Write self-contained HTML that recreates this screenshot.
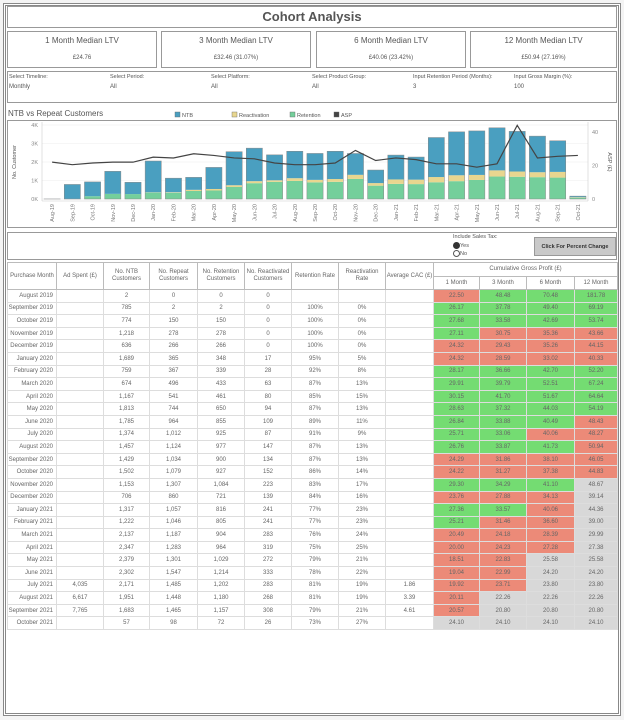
<!DOCTYPE html>
<html><head><meta charset="utf-8">
<style>
*{box-sizing:border-box;margin:0;padding:0}
body{width:624px;height:720px;background:#f4f4f4;font-family:"Liberation Sans",sans-serif;color:#555;position:relative;overflow:hidden}
.frame{position:absolute;left:3px;top:3px;width:618px;height:713px;border:3px double #888;background:#fff}
.box{position:absolute;border:1px solid #999;background:#fff}
.t{position:absolute;white-space:nowrap}
table{position:absolute;left:7px;top:262px;border-collapse:collapse;table-layout:fixed;font-size:6px;color:#666}
td,th{border:1px solid #ddd;text-align:center;font-weight:normal;overflow:hidden;white-space:nowrap;padding:0}
th{border-color:#bbb;line-height:7px}
td.pm{text-align:right;padding-right:3px}
td.g{background:#74dc72}td.r{background:#ec8a78}td.n{background:#d8d8d8}
</style></head><body>
<div class="frame"></div>
<div class="box" style="left:7px;top:6px;width:610px;height:22px"></div>
<div class="t" style="left:0;width:624px;text-align:center;top:9px;font-size:13px;font-weight:bold;color:#555">Cohort Analysis</div>

<div class="box" style="left:7px;top:31px;width:150px;height:37px"></div>
<div class="box" style="left:161px;top:31px;width:150px;height:37px"></div>
<div class="box" style="left:316px;top:31px;width:150px;height:37px"></div>
<div class="box" style="left:470px;top:31px;width:147px;height:37px"></div>
<div class="t" style="left:7px;width:150px;text-align:center;top:36px;font-size:8px">1 Month Median LTV</div>
<div class="t" style="left:161px;width:150px;text-align:center;top:36px;font-size:8px">3 Month Median LTV</div>
<div class="t" style="left:316px;width:150px;text-align:center;top:36px;font-size:8px">6 Month Median LTV</div>
<div class="t" style="left:470px;width:147px;text-align:center;top:36px;font-size:8px">12 Month Median LTV</div>
<div class="t" style="left:7px;width:150px;text-align:center;top:55px;font-size:6px">£24.76</div>
<div class="t" style="left:161px;width:150px;text-align:center;top:55px;font-size:6px">£32.46 (31.07%)</div>
<div class="t" style="left:316px;width:150px;text-align:center;top:55px;font-size:6px">£40.06 (23.42%)</div>
<div class="t" style="left:470px;width:147px;text-align:center;top:55px;font-size:6px">£50.94 (27.16%)</div>

<div class="box" style="left:7px;top:71px;width:610px;height:32px"></div>
<div class="t" style="left:9px;top:74px;font-size:5.5px">Select Timeline:</div>
<div class="t" style="left:9px;top:84px;font-size:6px">Monthly</div>
<div class="t" style="left:110px;top:74px;font-size:5.5px">Select Period:</div>
<div class="t" style="left:110px;top:84px;font-size:6px">All</div>
<div class="t" style="left:211px;top:74px;font-size:5.5px">Select Platform:</div>
<div class="t" style="left:211px;top:84px;font-size:6px">All</div>
<div class="t" style="left:312px;top:74px;font-size:5.5px">Select Product Group:</div>
<div class="t" style="left:312px;top:84px;font-size:6px">All</div>
<div class="t" style="left:413px;top:74px;font-size:5.5px">Input Retention Period (Months):</div>
<div class="t" style="left:413px;top:84px;font-size:6px">3</div>
<div class="t" style="left:514px;top:74px;font-size:5.5px">Input Gross Margin (%):</div>
<div class="t" style="left:514px;top:84px;font-size:6px">100</div>

<div class="t" style="left:8px;top:109px;font-size:8px;color:#555">NTB vs Repeat Customers</div>
<div class="box" style="left:7px;top:120px;width:610px;height:108px;border:1px solid #999"></div>
<svg id="chart" width="624" height="720" style="position:absolute;left:0;top:0;font-family:'Liberation Sans',sans-serif"></svg>

<div class="box" style="left:7px;top:232px;width:610px;height:28px"></div>
<div class="t" style="left:453px;top:234px;font-size:5.5px">Include Sales Tax:</div>
<div class="t" style="left:453px;top:242px;font-size:5.5px"><span style="display:inline-block;width:7px;height:7px;border-radius:50%;border:2px solid #333;background:#333;vertical-align:middle"></span>Yes</div>
<div class="t" style="left:453px;top:250px;font-size:5.5px"><span style="display:inline-block;width:7px;height:7px;border-radius:50%;border:1px solid #555;vertical-align:middle"></span>No</div>
<div class="box" style="left:534px;top:237px;width:82px;height:19px;background:#c9c9c9;border:1px solid #999;font-size:5.5px;font-weight:bold;color:#333;text-align:center;line-height:19px">Click For Percent Change</div>

<table id="tbl">
<colgroup><col style="width:49px"><col style="width:47px"><col style="width:46px"><col style="width:48px"><col style="width:47px"><col style="width:47px"><col style="width:47px"><col style="width:47px"><col style="width:48px"><col style="width:46px"><col style="width:47px"><col style="width:48px"><col style="width:43px"></colgroup>
<thead>
<tr style="height:14px"><th rowspan="2">Purchase Month</th><th rowspan="2">Ad Spent (£)</th><th rowspan="2">No. NTB<br>Customers</th><th rowspan="2">No. Repeat<br>Customers</th><th rowspan="2">No. Retention<br>Customers</th><th rowspan="2">No. Reactivated<br>Customers</th><th rowspan="2">Retention Rate</th><th rowspan="2">Reactivation<br>Rate</th><th rowspan="2">Average CAC (£)</th><th colspan="4">Cumulative Gross Profit (£)</th></tr>
<tr style="height:13px"><th>1 Month</th><th>3 Month</th><th>6 Month</th><th>12 Month</th></tr>
</thead><tbody id="tb"></tbody></table>

<script>
const months=["Aug-19","Sep-19","Oct-19","Nov-19","Dec-19","Jan-20","Feb-20","Mar-20","Apr-20","May-20","Jun-20","Jul-20","Aug-20","Sep-20","Oct-20","Nov-20","Dec-20","Jan-21","Feb-21","Mar-21","Apr-21","May-21","Jun-21","Jul-21","Aug-21","Sep-21","Oct-21"];
const ntb=[2,785,774,1218,636,1689,759,674,1167,1813,1785,1374,1457,1429,1502,1153,706,1317,1222,2137,2347,2379,2302,2171,1951,1683,57];
const retention=[0,2,150,278,266,348,339,433,461,650,855,925,977,900,927,1084,721,816,805,904,964,1029,1214,1202,1180,1157,72];
const reactivation=[0,0,0,0,0,17,28,63,80,94,109,87,147,134,152,223,139,241,241,283,319,272,333,283,268,308,26];
const asp=[22,20.5,21.5,22,22,25,24.5,27,26,24.5,24,21.5,20.5,20.5,21.5,29,23,24.5,23.5,21,21,19,21,44,24.5,25.5,26];
const leftTicks=[0,1000,2000,3000,4000];
const leftTickLabels=["0K","1K","2K","3K","4K"];
const rightTicks=[0,20,40];

const X0=42,X1=588,Y0=199;
const slot=(X1-X0)/months.length;
const yL=v=>Y0-v*74/4000;
const yR=v=>Y0-v*67/40;
const xC=i=>X0+slot*(i+0.5);
const svg=document.getElementById('chart');
const NS='http://www.w3.org/2000/svg';
function mk(tag,attrs,txt){const e=document.createElementNS(NS,tag);for(const k in attrs)e.setAttribute(k,attrs[k]);if(txt!=null)e.textContent=txt;svg.appendChild(e);return e;}

leftTicks.forEach((v,i)=>{
 const g=mk('line',{x1:X0,x2:X1,y1:yL(v),y2:yL(v),stroke:'#eee','stroke-width':0.6});
 
 
 const t=mk('text',{x:X0-4,y:yL(v)+2,'text-anchor':'end','font-size':5.5,fill:'#888'},leftTickLabels[i]);
 
 
});
rightTicks.forEach(v=>{
 const t=mk('text',{x:X1+4,y:yR(v)+2,'font-size':5.5,fill:'#888'},v);
 
 
});
const yt=mk('text',{x:0,y:0,'font-size':5.5,fill:'#555',transform:`translate(16,${Y0-37}) rotate(-90)`,'text-anchor':'middle'},'No. Customer');


const yt2=mk('text',{x:0,y:0,'font-size':5.5,fill:'#555',transform:`translate(608,${Y0-37}) rotate(90)`,'text-anchor':'middle'},'ASP (£)');


mk('line',{x1:X0,x2:X0,y1:122,y2:Y0+2,stroke:'#ccc','stroke-width':0.6});
mk('line',{x1:X1,x2:X1,y1:122,y2:Y0+2,stroke:'#ccc','stroke-width':0.6});
mk('line',{x1:X0,x2:X1,y1:Y0+2,y2:Y0+2,stroke:'#ccc','stroke-width':0.6});

const bw=slot*0.8;
months.forEach((m,i)=>{
 const x=xC(i)-bw/2;
 const r1=mk('rect',{x:x,y:yL(retention[i]),width:bw,height:Y0-yL(retention[i]),fill:'#74cf9b'});
 
 
 const b2=retention[i]+reactivation[i];
 const r2=mk('rect',{x:x,y:yL(b2),width:bw,height:yL(retention[i])-yL(b2),fill:'#e8d68f'});
 
 
 const b3=b2+ntb[i];
 const r3=mk('rect',{x:x,y:yL(b3),width:bw,height:yL(b2)-yL(b3),fill:'#4a9fc0'});
 
 
 const o=mk('rect',{x:x,y:yL(b3),width:bw,height:Y0-yL(b3),fill:'none',stroke:'#888','stroke-width':0.5});
 
 
 const t=mk('text',{x:0,y:0,'font-size':5.5,fill:'#777','text-anchor':'end',transform:`translate(${xC(i)+2},${Y0+5}) rotate(-90)`},m);
 
 
});
const pl=mk('polyline',{points:asp.map((v,i)=>xC(i)+','+yR(v)).join(' '),fill:'none',stroke:'#444','stroke-width':1.2});



const leg=[['NTB','#4a9fc0',175],['Reactivation','#e8d68f',232],['Retention','#74cf9b',290],['ASP','#444',334]];
leg.forEach(l=>{
 const r=mk('rect',{x:l[2],y:112,width:5,height:5,fill:l[1],stroke:'#666','stroke-width':0.4});
 
 
 const t=mk('text',{x:l[2]+7,y:117,'font-size':5.5,fill:'#555'},l[0]);
 
 
});

const rowMonths=["August 2019","September 2019","October 2019","November 2019","December 2019","January 2020","February 2020","March 2020","April 2020","May 2020","June 2020","July 2020","August 2020","September 2020","October 2020","November 2020","December 2020","January 2021","February 2021","March 2021","April 2021","May 2021","June 2021","July 2021","August 2021","September 2021","October 2021"];
const adSpent={23:"4,035",24:"6,617",25:"7,765"};
const cac={23:"1.86",24:"3.39",25:"4.61"};
const gp1=["22.50","26.17","27.68","27.11","24.32","24.32","28.17","29.91","30.15","28.63","26.84","25.71","26.76","24.29","24.22","29.30","23.76","27.36","25.21","20.49","20.00","18.51","19.04","19.92","20.11","20.57","24.10"];
const gp3=["48.48","37.78","33.58","30.75","29.43","28.59","36.66","39.79","41.70","37.32","33.88","33.06","33.87","31.86","31.27","34.29","27.88","33.57","31.46","24.18","24.23","22.83","22.99","23.71","22.26","20.80","24.10"];
const gp6=["70.48","49.40","42.69","35.36","35.26","33.02","42.70","52.51","51.67","44.03","40.49","40.06","41.73","38.10","37.38","41.10","34.13","40.06","36.60","28.39","27.28","25.58","24.20","23.80","22.26","20.80","24.10"];
const gp12=["181.78","69.19","53.74","43.66","44.15","40.33","52.20","67.24","64.64","54.19","48.43","48.27","50.94","46.05","44.83","48.67","39.14","44.36","39.00","29.99","27.38","25.58","24.20","23.80","22.26","20.80","24.10"];
const colors=["rggg","gggg","gggg","grrr","rrrr","rrrr","gggg","gggg","gggg","gggg","gggr","ggrr","gggr","rrrr","rrrr","gggn","rrrn","ggrn","grrn","rrrn","rrrn","rrnn","rrnn","rrnn","rnnn","rnnn","nnnn"];
const fmt=n=>n.toLocaleString('en-US');
const tb=document.getElementById('tb');
rowMonths.forEach((m,i)=>{
 const tr=document.createElement('tr');
 tr.style.height='12.6px';
 
 
 const rep=retention[i]+reactivation[i];
 const rr=rep?Math.round(retention[i]/rep*100)+'%':'';
 const ra=rep?Math.round(reactivation[i]/rep*100)+'%':'';
 const cells=[m,adSpent[i]||'',fmt(ntb[i]),fmt(rep),fmt(retention[i]),fmt(reactivation[i]),rr,ra,cac[i]||'',gp1[i],gp3[i],gp6[i],gp12[i]];
 cells.forEach((c,j)=>{
  const td=document.createElement('td');
  td.textContent=c;
  if(j===0)td.className='pm';
  if(j>=9)td.className=colors[i][j-9];
  
  
  tr.appendChild(td);
 });
 tb.appendChild(tr);
});
</script>
</body></html>
